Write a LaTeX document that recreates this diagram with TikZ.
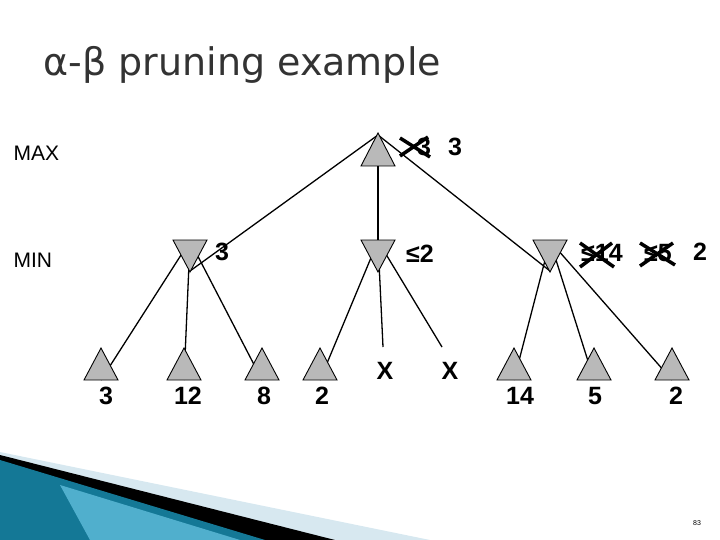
\documentclass[tikz,border=0pt]{standalone}
\usepackage{fontspec}
\setmainfont{Liberation Sans}
\newfontfamily\titlefont{DejaVu Sans}
\definecolor{teal1}{RGB}{20,120,150}
\definecolor{teal2}{RGB}{80,175,205}
\definecolor{pale}{RGB}{215,232,240}
\begin{document}
\begin{tikzpicture}[x=1pt,y=-1pt,
  up/.style={fill=gray!55,draw=black,line width=0.9pt},
  lbl/.style={font=\bfseries\fontsize{25}{27}\selectfont,inner sep=0pt},
  edge/.style={line width=1.3pt},
  crossx/.style={line width=3.5pt}]
\useasboundingbox (0,0) rectangle (720,540);
% bottom decoration
\fill[pale] (0,452) -- (430,540) -- (0,540) -- cycle;
\fill[black] (0,455) -- (335,540) -- (0,540) -- cycle;
\fill[teal1] (0,460) -- (265,540) -- (0,540) -- cycle;
\fill[teal2] (60,485) -- (240,540) -- (90,540) -- cycle;
\node[font=\scriptsize] (pg) at (697,523) {83};
% title
\node[anchor=west,font=\titlefont\fontsize{38}{40}\selectfont,text=black!80] (t) at (40,65) {α-β pruning example};
\node[anchor=west,font=\fontsize{21}{23}\selectfont] (max) at (10,153) {MAX};
\node[anchor=west,font=\fontsize{21}{23}\selectfont] (min) at (10,260) {MIN};
% coordinates
\coordinate (A) at (378,150);
\foreach \n/\x in {B/190,C/378,D/550}{\coordinate (\n) at (\x,256);}
\foreach \n/\x in {L1/101,L2/184,L3/262,L4/320,L5/514,L6/594,L7/672}{\coordinate (\n) at (\x,364);}
% edges
\foreach \m in {B,C,D}{\draw[edge] ([yshift=15]A) -- ([yshift=-15]\m);}
\foreach \m/\l in {B/L1,B/L2,B/L3,C/L4,D/L5,D/L6,D/L7}{\draw[edge] ([yshift=15]\m) -- ([yshift=-16]\l);}
\coordinate (X1) at (383,347); \coordinate (X2) at (442,347);
\draw[edge] ([yshift=15]C) -- (X1);
\draw[edge] ([yshift=15]C) -- (X2);
% triangles
\draw[up] (361,166) -- (395,166) -- (378,133) -- cycle;
\foreach \x in {190,378,550}{\draw[up] (\x-17,240) -- (\x+17,240) -- (\x,272) -- cycle;}
\foreach \x in {101,184,262,320,514,594,672}{\draw[up] (\x-17,380) -- (\x+17,380) -- (\x,348) -- cycle;}
% leaf values
\foreach \x/\v in {106/3,188/12,264/8,322/2,520/14,595/5,676/2}{\node[lbl] at (\x,396) {\v};}
\node[lbl] (x1) at (385,371) {X};
\node[lbl] (x2) at (450,371) {X};
% MAX label
\node[lbl] (a1) at (424,147) {3};
\draw[crossx] (400,138) -- (430,157); \draw[crossx] (400,156) -- (428,137);
\node[lbl] (a2) at (455,147) {3};
% MIN labels
\node[lbl] (b1) at (222,252) {3};
\node[lbl] (c1) at (420,254) {≤2};
\node[lbl] (d1) at (602,253) {≤14};
\draw[crossx] (580,243) -- (614,267); \draw[crossx] (580,267) -- (612,243);
\node[lbl] (d2) at (658,253) {≤5};
\draw[crossx] (640,243) -- (675,265); \draw[crossx] (640,266) -- (673,243);
\node[lbl] (d3) at (700,252) {2};
\end{tikzpicture}
\end{document}
